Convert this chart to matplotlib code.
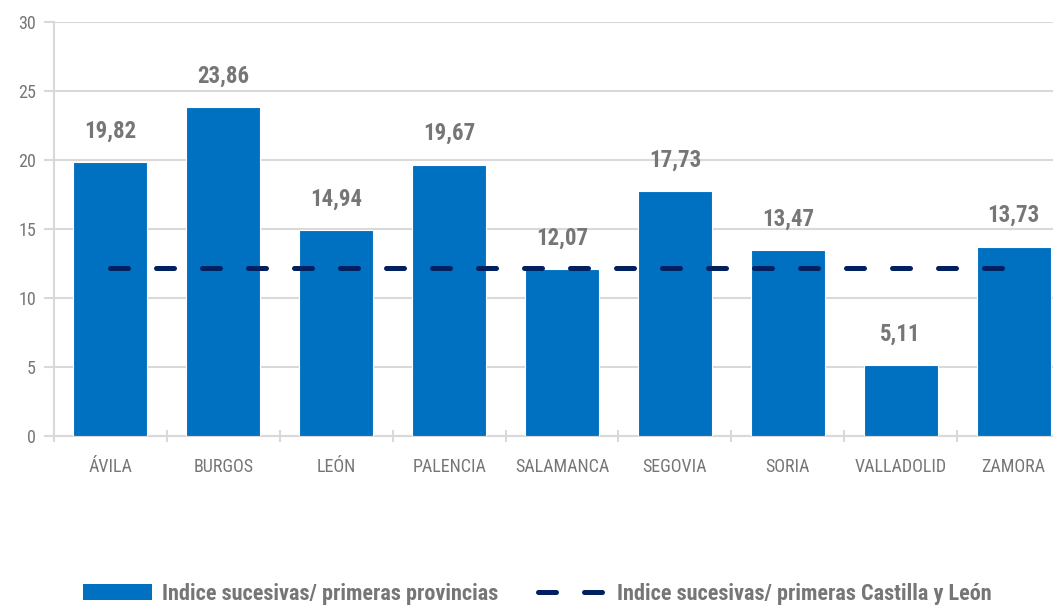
import numpy as np
import matplotlib.pyplot as plt
from matplotlib.patches import Patch
from matplotlib.lines import Line2D

# Data
provincias = ['ÁVILA', 'BURGOS', 'LEÓN', 'PALENCIA', 'SALAMANCA',
              'SEGOVIA', 'SORIA', 'VALLADOLID', 'ZAMORA']
indice_provincias = [19.82, 23.86, 14.94, 19.67, 12.07, 17.73, 13.47, 5.11, 13.73]
indice_cyl = 12.2

# Styling
plt.rcParams['font.family'] = ['Roboto Condensed', 'Roboto', 'DejaVu Sans']
plt.rcParams['font.stretch'] = 'condensed'
bar_color = '#0070C0'
line_color = '#002060'
text_color = '#767676'
grid_color = '#D9D9D9'

fig = plt.figure(figsize=(10.53, 6.07), dpi=100)
ax = fig.add_axes([54 / 1053, 171 / 607, 1016 / 1053, 414 / 607])

x = np.arange(len(provincias))
ax.bar(x, indice_provincias, width=0.655, color=bar_color,
       edgecolor='white', linewidth=0.8, zorder=3)
ax.plot([x[0], x[-1]], [indice_cyl, indice_cyl], color=line_color, lw=3.6,
        dashes=(3.6, 5.6), dash_capstyle='round', zorder=4)

# Value labels
for xi, v in zip(x, indice_provincias):
    ax.annotate(f'{v:.2f}'.replace('.', ','), (xi, v), xytext=(0, 14),
                textcoords='offset points', ha='center', va='bottom',
                fontsize=16.5, fontweight='bold', color=text_color)

# Axes
ax.set_xlim(-0.5, len(provincias) - 0.5)
ax.set_ylim(0, 30)
ax.set_yticks(np.arange(0, 31, 5))
ax.set_xticks(x)
ax.set_xticklabels(provincias)
ax.set_xticks(np.arange(-0.5, len(provincias), 1), minor=True)
ax.tick_params(axis='x', which='major', length=0, pad=16,
               labelsize=13, labelcolor=text_color)
ax.tick_params(axis='x', which='minor', length=8, direction='inout',
               color=grid_color, width=1.5)
ax.tick_params(axis='y', length=7, width=1.5, color=grid_color, pad=6,
               labelsize=13, labelcolor=text_color)
ax.grid(axis='y', color=grid_color, lw=1.5, zorder=0)
for side in ['top', 'right']:
    ax.spines[side].set_visible(False)
for side in ['left', 'bottom']:
    ax.spines[side].set_color(grid_color)
    ax.spines[side].set_linewidth(1.5)

# Legend
handles = [Patch(facecolor=bar_color, edgecolor='none'),
           Line2D([0], [0], color=line_color, lw=3.6, dashes=(3.6, 5.6),
                  dash_capstyle='round')]
labels = ['Indice sucesivas/ primeras provincias',
          'Indice sucesivas/ primeras Castilla y León']
leg = fig.legend(handles, labels, loc='center', bbox_to_anchor=(0.51, 0.022),
                 ncol=2, frameon=False, handlelength=3.1, handletextpad=0.45,
                 columnspacing=1.8,
                 prop={'size': 16, 'weight': 'bold'})
for t in leg.get_texts():
    t.set_color(text_color)

fig.savefig('out.png', dpi=100)
